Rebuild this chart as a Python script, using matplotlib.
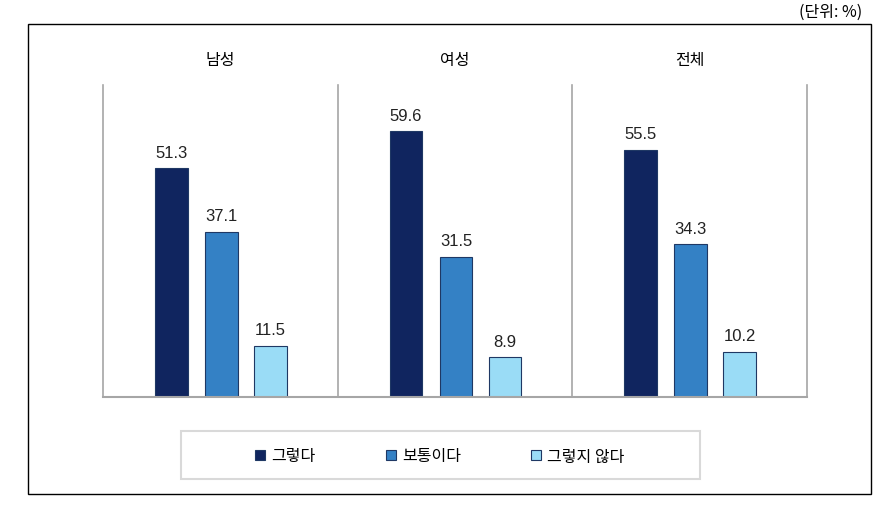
import numpy as np
import matplotlib.pyplot as plt
from matplotlib.patches import Rectangle

plt.rcParams['font.family'] = ['Noto Sans CJK KR', 'DejaVu Sans']
num_font = ['Liberation Sans', 'DejaVu Sans']

groups = ['남성', '여성', '전체']
series = ['그렇다', '보통이다', '그렇지 않다']
yes = [51.3, 59.6, 55.5]
neutral = [37.1, 31.5, 34.3]
no = [11.5, 8.9, 10.2]
colors = ['#10255f', '#3481c5', '#9adcf6']

fig = plt.figure(figsize=(8.9, 5.1), dpi=100)
ax = fig.add_axes([103 / 890, 1 - 398 / 510, 704 / 890, 312 / 510])

offsets = [0.291, 0.504, 0.713]
width = 0.14
x = np.arange(len(groups))
handles = []
for vals, off, c, name in zip([yes, neutral, no], offsets, colors, series):
    b = ax.bar(x + off, vals, width, color=c, edgecolor='#1f3864', linewidth=0.8, label=name)
    handles.append(b)
    for xi, v in zip(x + off, vals):
        ax.annotate(f'{v:.1f}', (xi, v), xytext=(0, 6), textcoords='offset points',
                    ha='center', va='bottom', fontsize=12, color='#222222', family=num_font)

# separators and baseline
for i in range(len(groups) + 1):
    ax.plot([i, i], [0, 70], color='#a6a6a6', lw=1.2, clip_on=False)
ax.plot([0, len(groups)], [0, 0], color='#a6a6a6', lw=1.5, clip_on=False)

for i, g in enumerate(groups):
    ax.text(i + 0.5, 75.8, g, ha='center', va='center', fontsize=11.5, clip_on=False)

ax.set_xlim(0, 3)
ax.set_ylim(0, 70)
ax.axis('off')

# outer frame
fig.patches.append(Rectangle((28 / 890, 1 - 495 / 510), 843 / 890, 470 / 510,
                             transform=fig.transFigure, fill=False, edgecolor='black', lw=1))
# legend box
fig.patches.append(Rectangle((181 / 890, 1 - 480 / 510), 519 / 890, 48 / 510,
                             transform=fig.transFigure, fill=False, edgecolor='#d9d9d9', lw=1.5))
fig.legend(handles=handles, loc='center', bbox_to_anchor=(440 / 890, 1 - 457 / 510),
           ncol=3, frameon=False, fontsize=11.5, handlelength=0.6, handleheight=0.6,
           handletextpad=0.4, columnspacing=4.4)

fig.text(862 / 890, 1 - 12 / 510, '(단위: %)', ha='right', va='center', fontsize=11.5)

fig.savefig('out.png', dpi=100)
